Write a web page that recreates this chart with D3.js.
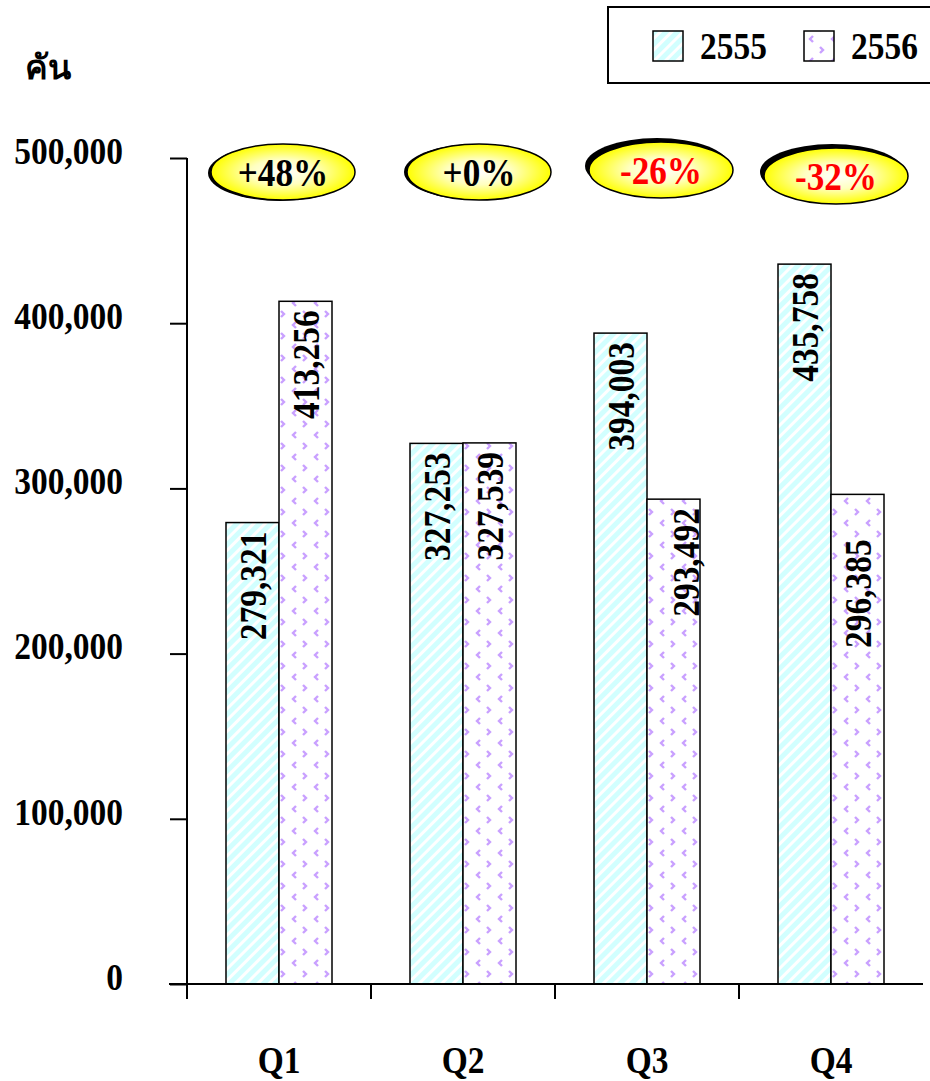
<!DOCTYPE html>
<html><head><meta charset="utf-8">
<script src="https://cdn.jsdelivr.net/npm/d3@7/dist/d3.min.js"></script>
<style>
html,body{margin:0;padding:0;background:#fff;}
svg{display:block;}
text{font-family:"Liberation Serif","Times New Roman",serif;font-weight:bold;}
</style></head>
<body>
<script>
const categories = ["Q1", "Q2", "Q3", "Q4"];
const seriesNames = ["2555", "2556"];
const values2555 = [279321, 327253, 394003, 435758];
const values2556 = [413256, 327539, 293492, 296385];
const changeLabels = ["+48%", "+0%", "-26%", "-32%"];
const yTickValues = [0, 100000, 200000, 300000, 400000, 500000];
const unitLabel = "คัน";

// layout (not data)
const W = 930, H = 1081;
const FS = 38, SX = 0.88; // font size and horizontal squeeze
const bubbleShift = [[4, 0], [16, 0], [14, -2], [5, 4]];
const shadowShift = [[-3, 1], [-3, 0], [-4, -4], [-4, -4]];
const labelShift = [[0, 0], [0, 0], [0, 0], [0, 36]];

const svg = d3.select("body").append("svg").attr("width", W).attr("height", H);
const defs = svg.append("defs");

// stripe pattern (2555)
const ps = defs.append("pattern").attr("id", "stripe").attr("patternUnits", "userSpaceOnUse")
  .attr("width", 8).attr("height", 8).attr("patternTransform", "rotate(45)");
ps.append("rect").attr("width", 8).attr("height", 8).attr("fill", "#d2ffff");
ps.append("rect").attr("width", 3).attr("height", 8).attr("fill", "#ffffff");

// chevron pattern (2556)
const pc = defs.append("pattern").attr("id", "chev").attr("patternUnits", "userSpaceOnUse")
  .attr("width", 22).attr("height", 22);
pc.append("rect").attr("width", 22).attr("height", 22).attr("fill", "#fff");
const chevC = "#c9a0ff";
[["M3,1 L6,4 L3,7", 3, 2], ["M7,1 L4,4 L7,7", 14, 13]]
  .forEach(([d, tx, ty]) => {
    pc.append("path").attr("d", d).attr("transform", `translate(${tx},${ty})`)
      .attr("fill", "none").attr("stroke", chevC).attr("stroke-width", 2.4);
  });

// bubble gradient
const rg = defs.append("radialGradient").attr("id", "bub").attr("cx", "50%").attr("cy", "50%").attr("r", "50%");
rg.append("stop").attr("offset", "0%").attr("stop-color", "#ffffff");
rg.append("stop").attr("offset", "45%").attr("stop-color", "#ffffc0");
rg.append("stop").attr("offset", "100%").attr("stop-color", "#ffff00");

const x0 = d3.scaleBand().domain(categories).range([187, 923]).paddingInner(0).paddingOuter(0);
const x1 = d3.scaleBand().domain(seriesNames).range([39, 145]).padding(0);
const y = d3.scaleLinear().domain([0, 500000]).range([984, 158]);

const fills = {"2555": "url(#stripe)", "2556": "url(#chev)"};
const rows = categories.map((c, i) => ({cat: c, i, vals: [
  {s: "2555", v: values2555[i], k: 0}, {s: "2556", v: values2556[i], k: 1}]}));

const g = svg.append("g");
const grp = g.selectAll("g.cat").data(rows).join("g").attr("class", "cat")
  .attr("transform", d => `translate(${x0(d.cat)},0)`);
grp.selectAll("rect").data(d => d.vals).join("rect")
  .attr("x", d => x1(d.s)).attr("y", d => y(d.v))
  .attr("width", x1.bandwidth()).attr("height", d => y(0) - y(d.v))
  .attr("fill", d => fills[d.s]).attr("stroke", "#000").attr("stroke-width", 1.5);

grp.each(function(row) {
  d3.select(this).selectAll("text.val").data(row.vals).join("text").attr("class", "val")
    .attr("transform", d => {
      const cx = x1(d.s) + x1.bandwidth() / 2 + (row.cat === "Q3" && d.k === 1 ? 12 : 0);
      const ty = y(d.v) + 9 + labelShift[row.i][d.k];
      return `translate(${cx},${ty}) rotate(-90) scale(${SX},1)`;
    })
    .attr("text-anchor", "end").attr("dy", "0.35em")
    .attr("font-size", FS).attr("fill", "#000")
    .text(d => d3.format(",")(d.v));
});

// y axis
const yAxis = d3.axisLeft(y).tickValues(yTickValues).tickSize(17).tickPadding(0)
  .tickFormat(d3.format(","));
const ya = svg.append("g").attr("transform", "translate(187,0)").call(yAxis);
ya.select(".domain").attr("d", `M0,${y(500000)}V${y(0)}`).attr("stroke-width", 2);
ya.selectAll(".tick line").attr("stroke-width", 2);
ya.selectAll(".tick text").attr("x", 0).attr("transform", `translate(-64,-8) scale(${SX},1)`)
  .attr("font-size", FS).attr("font-family", "Liberation Serif, serif")
  .attr("font-weight", "bold").attr("fill", "#000").attr("dy", "0.35em");

// x axis
const xTicks = categories.map(c => x0(c));
const xa = svg.append("g");
xa.append("line").attr("x1", 169).attr("x2", 923).attr("y1", y(0)).attr("y2", y(0))
  .attr("stroke", "#000").attr("stroke-width", 2);
xa.selectAll("line.t").data(xTicks).join("line").attr("class", "t")
  .attr("x1", d => d).attr("x2", d => d).attr("y1", y(0)).attr("y2", y(0) + 15)
  .attr("stroke", "#000").attr("stroke-width", 2);
xa.selectAll("text").data(categories).join("text")
  .attr("transform", d => `translate(${x0(d) + x0.bandwidth() / 2},1073) scale(${SX},1)`)
  .attr("text-anchor", "middle").attr("font-size", FS).attr("fill", "#000").text(d => d);

// unit label
svg.append("text").attr("x", 25).attr("y", 79).attr("font-size", 34)
  .style("font-family", "'Liberation Serif','Noto Sans','DejaVu Sans',serif").text(unitLabel);

// legend
const lg = svg.append("g");
lg.append("rect").attr("x", 608).attr("y", 7).attr("width", 340).attr("height", 76)
  .attr("fill", "#fff").attr("stroke", "#000").attr("stroke-width", 2);
seriesNames.forEach((s, i) => {
  const lx = [653, 804][i];
  lg.append("rect").attr("x", lx).attr("y", 31).attr("width", 30).attr("height", 30)
    .attr("fill", fills[s]).attr("stroke", "#000").attr("stroke-width", 1.5);
  lg.append("text").attr("transform", `translate(${lx + 47},59) scale(${SX},1)`)
    .attr("font-size", FS).attr("fill", "#000").text(s);
});

// change bubbles
const bg = svg.append("g");
categories.forEach((c, i) => {
  const cx = x0(c) + x0.bandwidth() / 2 + bubbleShift[i][0];
  const cy = 172 + bubbleShift[i][1];
  bg.append("ellipse").attr("cx", cx + shadowShift[i][0]).attr("cy", cy + shadowShift[i][1])
    .attr("rx", 72).attr("ry", 28).attr("fill", "#000");
  bg.append("ellipse").attr("cx", cx).attr("cy", cy).attr("rx", 72).attr("ry", 28)
    .attr("fill", "url(#bub)").attr("stroke", "#000").attr("stroke-width", 1.5);
  const neg = changeLabels[i].startsWith("-");
  bg.append("text").attr("transform", `translate(${cx},${cy}) scale(${SX},1)`)
    .attr("dy", "0.35em").attr("text-anchor", "middle")
    .attr("font-size", FS + 2).attr("fill", neg ? "#ff0000" : "#000").text(changeLabels[i]);
});
</script>
</body></html>
